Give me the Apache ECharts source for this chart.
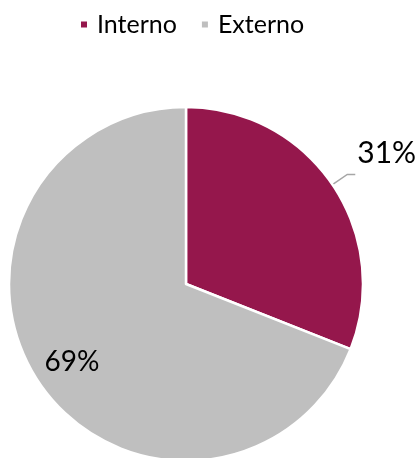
<!DOCTYPE html>
<html>
<head>
<meta charset="utf-8">
<script src="https://cdn.jsdelivr.net/npm/echarts@6/dist/echarts.min.js"></script>
<style>
  html, body { margin: 0; padding: 0; background: #ffffff; }
  #chart { width: 417px; height: 458px; }
</style>
</head>
<body>
<div id="chart"></div>
<script>
// Origin of the cases: internal vs external share
const categories = ['Interno', 'Externo'];
const shares = [31, 69];
const colors = ['#95174C', '#BFBFBF'];

const FONT = 'Lato, "DejaVu Sans", sans-serif';

const chart = echarts.init(document.getElementById('chart'), null, { renderer: 'canvas' });

const slices = categories.map((name, i) => ({
  name,
  value: shares[i],
  itemStyle: { color: colors[i] }
}));

const option = {
  animation: false,
  backgroundColor: '#ffffff',
  legend: {
    top: 7,
    left: 74,
    icon: 'rect',
    itemWidth: 8,
    itemHeight: 8,
    itemGap: 23,
    data: categories,
    textStyle: { fontFamily: FONT, fontSize: 25, color: '#000000', padding: [0, 0, 0, 4] }
  },
  series: [
    {
      // the visible pie, with an outside label on the smaller slice
      type: 'pie',
      center: [186, 284],
      radius: [0, 177],
      startAngle: 90,
      clockwise: true,
      silent: true,
      itemStyle: { borderColor: '#ffffff', borderWidth: 2.5 },
      label: {
        show: true,
        position: 'outside',
        formatter: '{d}%',
        fontFamily: FONT,
        fontSize: 30,
        color: '#000000',
        overflow: 'none'
      },
      labelLine: {
        show: true,
        length: 18,
        length2: 8,
        lineStyle: { color: '#A6A6A6', width: 1.5 }
      },
      // lift the outside label so it sits above its leader line
      labelLayout: { dy: -21, dx: -3 },
      data: slices.map((s, i) => i === 0 ? s : Object.assign({}, s, {
        label: { show: false }, labelLine: { show: false }
      }))
    },
    {
      // transparent ring used only to place the label inside the larger slice
      type: 'pie',
      center: [186, 284],
      radius: [93, 177],
      startAngle: 90,
      clockwise: true,
      silent: true,
      legendHoverLink: false,
      itemStyle: { color: 'rgba(0,0,0,0)' },
      label: {
        show: true,
        position: 'inside',
        formatter: '{d}%',
        fontFamily: FONT,
        fontSize: 28,
        color: '#000000'
      },
      data: categories.map((name, i) => ({
        name: name + ' ',
        value: shares[i],
        label: { show: i === 1 }
      }))
    }
  ]
};

chart.setOption(option);
</script>
</body>
</html>
